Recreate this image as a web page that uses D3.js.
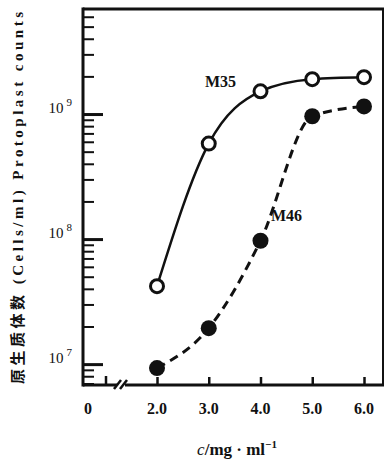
<!DOCTYPE html>
<html><head><meta charset="utf-8">
<script src="https://cdn.jsdelivr.net/npm/d3@7"></script>
</head>
<body style="margin:0;background:#fff">
<svg id="c" width="385" height="463" style="display:block"></svg>
<script>
// Data
const concentrations = [2.0, 3.0, 4.0, 5.0, 6.0];
const m35 = [4.2e7, 5.8e8, 1.52e9, 1.9e9, 1.97e9];
const m46 = [9.3e6, 1.94e7, 9.7e7, 9.6e8, 1.15e9];
const xTickLabels = ["2.0", "3.0", "4.0", "5.0", "6.0"];
const yMajorExps = [7, 8, 9];
const yMantissas = [1, 2, 3, 4, 5, 6, 7, 8, 9];

const P = { l: 83, r: 384, t: 9, b: 385 };
const ink = "#111";
const serif = "Liberation Serif, DejaVu Serif, serif";
const svg = d3.select("#c");

const x = d3.scaleLinear().domain([2, 6]).range([157, 364]);
const y = d3.scaleLog().domain([Math.pow(10, 6.833), Math.pow(10, 9.84)]).range([P.b, P.t]);

const dom = y.domain();
const majorVals = yMajorExps.map(e => Math.pow(10, e));
const minorVals = [];
[6, 7, 8, 9].forEach(e => yMantissas.forEach(m => {
  const v = m * Math.pow(10, e);
  if (m > 1 && v >= dom[0] && v <= dom[1]) minorVals.push(v);
}));

// y axis ticks via d3 axes (ticks pointing inward)
const gMinor = svg.append("g").attr("transform", `translate(${P.l},0)`)
  .call(d3.axisRight(y).tickValues(minorVals).tickSize(11).tickFormat(""));
gMinor.select(".domain").remove();
gMinor.selectAll("line").attr("stroke", ink).attr("stroke-width", 2);
const gMajor = svg.append("g").attr("transform", `translate(${P.l},0)`)
  .call(d3.axisRight(y).tickValues(majorVals).tickSize(20).tickFormat(""));
gMajor.select(".domain").remove();
gMajor.selectAll("line").attr("stroke", ink).attr("stroke-width", 3);

// x axis ticks pointing up
const gx = svg.append("g").attr("transform", `translate(0,${P.b})`)
  .call(d3.axisTop(x).tickValues(concentrations).tickSize(8).tickFormat(""));
gx.select(".domain").remove();
gx.selectAll("line").attr("stroke", ink).attr("stroke-width", 2.5);
// pre-break tick
svg.append("line").attr("x1", 106).attr("x2", 106).attr("y1", P.b).attr("y2", P.b - 9)
  .attr("stroke", ink).attr("stroke-width", 2.5);

// frame
svg.append("line").attr("x1", P.l).attr("x2", P.r).attr("y1", P.t).attr("y2", P.t)
  .attr("stroke", ink).attr("stroke-width", 3);
svg.append("line").attr("x1", P.r - 1).attr("x2", P.r - 1).attr("y1", P.t).attr("y2", P.b)
  .attr("stroke", ink).attr("stroke-width", 2);
svg.append("line").attr("x1", P.l).attr("x2", P.l).attr("y1", P.t - 1.5).attr("y2", P.b + 1.5)
  .attr("stroke", ink).attr("stroke-width", 3);
svg.append("line").attr("x1", P.l).attr("x2", 117).attr("y1", P.b).attr("y2", P.b)
  .attr("stroke", ink).attr("stroke-width", 3);
svg.append("line").attr("x1", 125).attr("x2", P.r).attr("y1", P.b).attr("y2", P.b)
  .attr("stroke", ink).attr("stroke-width", 3);
[[114, 121], [120, 127]].forEach(([a, b]) => {
  svg.append("line").attr("x1", a).attr("y1", P.b + 4).attr("x2", b).attr("y2", P.b - 5)
    .attr("stroke", ink).attr("stroke-width", 2.5);
});

function txt(xp, yp, size, bold) {
  return svg.append("text").attr("x", xp).attr("y", yp).attr("font-size", size)
    .attr("font-family", serif).attr("font-weight", bold ? "bold" : "normal").attr("fill", ink);
}

// y tick labels
yMajorExps.forEach(e => {
  const t = txt(72, y(Math.pow(10, e)) - 1, 15, false).attr("text-anchor", "end");
  t.append("tspan").text("10");
  t.append("tspan").attr("dx", 3).attr("dy", -7).attr("font-size", 11).text(String(e));
});

// x tick labels
concentrations.forEach((c, i) => {
  txt(x(c), 414, 16, true).attr("text-anchor", "middle").text(xTickLabels[i]);
});
txt(88, 414, 16, true).attr("text-anchor", "middle").text("0");

// x title
const xt = txt(237, 455, 17, true).attr("text-anchor", "middle");
xt.append("tspan").attr("font-style", "italic").attr("font-weight", "normal").text("c");
xt.append("tspan").text("/mg · ml");
xt.append("tspan").attr("dy", -7).attr("font-size", 11).text("−1");

// y title
const yt = txt(0, 0, 15, true).attr("transform", "translate(23,198) rotate(-90)")
  .attr("text-anchor", "middle").attr("textLength", 372).attr("lengthAdjust", "spacing");
yt.append("tspan").attr("font-family", "Noto Sans CJK SC").text("原生质体数");
yt.append("tspan").text(" (Cells/ml)  Protoplast  counts");

// curves
const line = d3.line().x((d, i) => x(concentrations[i])).y(d => y(d)).curve(d3.curveMonotoneX);
svg.append("path").attr("d", line(m35)).attr("fill", "none").attr("stroke", ink).attr("stroke-width", 2.5);
svg.append("path").attr("d", line(m46)).attr("fill", "none").attr("stroke", ink).attr("stroke-width", 3)
  .attr("stroke-dasharray", "9,6");

// markers
svg.append("g").selectAll("circle").data(m35).join("circle")
  .attr("cx", (d, i) => x(concentrations[i])).attr("cy", d => y(d)).attr("r", 6.5)
  .attr("fill", "#fff").attr("stroke", ink).attr("stroke-width", 3);
svg.append("g").selectAll("circle").data(m46).join("circle")
  .attr("cx", (d, i) => x(concentrations[i])).attr("cy", d => y(d)).attr("r", 8)
  .attr("fill", ink);

// series labels
txt(205, 87, 16, true).text("M35");
txt(271, 221, 16, true).text("M46");
</script>
</body></html>
